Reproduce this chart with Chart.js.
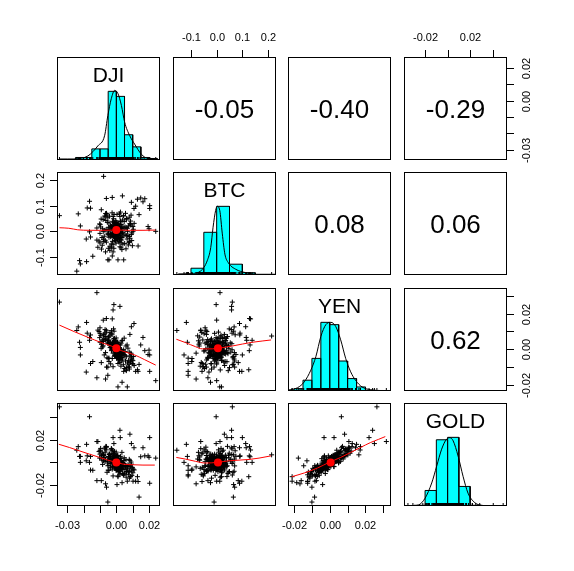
<!DOCTYPE html>
<html lang="en">
<head>
<meta charset="UTF-8">
<title>Pairs panels - DJI, BTC, YEN, GOLD</title>
<style>
  body { margin: 0; background: #ffffff; }
  #wrap { position: relative; width: 574px; height: 571px; overflow: hidden; background: #ffffff; }
  #wrap canvas { position: absolute; }
</style>
</head>
<body>
<div id="wrap"></div>
<script src="https://cdn.jsdelivr.net/npm/chart.js@4.4.1/dist/chart.umd.min.js"></script>
<script>
const names = ['DJI', 'BTC', 'YEN', 'GOLD'];

// returns, one entry per observation (same order in every array)
const dji = [
  -0.0348, -0.0078, -0.0242, 0.0241, -0.0119, -0.0052, 0.0139, -0.0164, -0.0015, 0.0022,
  -0.0020, -0.0182, -0.0225, -0.0220, -0.0144, -0.0066, 0.0010, 0.0067, 0.0035, 0.0204,
  0.0204, 0.0174, 0.0129, 0.0118, 0.0149, 0.0108, 0.0092, -0.0061, -0.0025, 0.0037,
  -0.0113, -0.0158, -0.0233, -0.0178, -0.0164, 0.0133, -0.0052, -0.0045, 0.0010, 0.0045,
  -0.0025, -0.0020, -0.0015, -0.0119, -0.0158, 0.0194, 0.0200, -0.0220, -0.0092, -0.0060,
  0.0004, 0.0163, 0.0102, 0.0083, 0.0024, -0.0184, -0.0080, -0.0100, 0.0080, -0.0070,
  0.0012, -0.0021, 0.0004, -0.0008, 0.0031, -0.0015, 0.0002, 0.0024, -0.0032, 0.0009,
  -0.0003, 0.0018, -0.0045, 0.0006, -0.0011, 0.0029, -0.0005, 0.0014, -0.0026, 0.0001,
  0.0042, -0.0018, 0.0007, -0.0001, 0.0022, -0.0038, 0.0010, -0.0009, 0.0003, 0.0053,
  -0.0023, 0.0016, -0.0006, 0.0000, 0.0035, -0.0013, 0.0008, -0.0052, 0.0019, -0.0002,
  0.0026, -0.0017, 0.0005, -0.0029, 0.0013, -0.0004, 0.0038, -0.0010, 0.0006, -0.0035,
  0.0020, -0.0007, 0.0011, -0.0020, 0.0002, 0.0047, -0.0014, 0.0009, -0.0008, 0.0027,
  -0.0040, 0.0004, -0.0002, 0.0017, -0.0024, 0.0000, 0.0033, -0.0012, 0.0007, -0.0030,
  0.0015, -0.0005, 0.0023, -0.0016, 0.0001, 0.0061, -0.0009, 0.0012, -0.0027, 0.0003,
  -0.0001, 0.0019, -0.0019, 0.0008, -0.0048, 0.0021, -0.0003, 0.0010, -0.0011, 0.0030,
  -0.0006, 0.0005, -0.0022, 0.0014, -0.0004, 0.0025, -0.0015, 0.0002, -0.0034, 0.0016,
  -0.0007, 0.0009, -0.0010, 0.0040, -0.0025, 0.0006, -0.0002, 0.0018, -0.0013, 0.0004,
  -0.0036, 0.0028, -0.0008, 0.0001, 0.0011, -0.0019, 0.0007, -0.0004, 0.0024, -0.0028,
  0.0075, -0.0068, 0.0092, -0.0081, 0.0043, -0.0039, 0.0104, -0.0096, 0.0028, -0.0052,
  0.0066, -0.0074, 0.0087, -0.0026, 0.0051, -0.0102, 0.0034, -0.0045, 0.0079, -0.0061,
  0.0019, -0.0088, 0.0098, -0.0017, 0.0060, -0.0091, 0.0048, -0.0057, 0.0083, -0.0031,
  0.0109, -0.0070, 0.0022, -0.0042, 0.0071, -0.0106, 0.0056, -0.0020, 0.0089, -0.0064,
  0.0030, -0.0084, 0.0063, -0.0049, 0.0095, -0.0014, 0.0040, -0.0099, 0.0077, -0.0055,
  0.0025, -0.0077, 0.0101, -0.0035, 0.0059, -0.0069, 0.0080, -0.0023, 0.0068, -0.0086,
  0.0037, -0.0040, 0.0090, -0.0062, 0.0016, -0.0093, 0.0073, -0.0011, 0.0053, -0.0079,
  0.0045, -0.0050, 0.0085, -0.0030, 0.0061, -0.0100, 0.0029, -0.0066, 0.0094, -0.0047
];
const btc = [
  0.061, 0.214, -0.155, 0.000, 0.013, -0.010, 0.065, -0.002, -0.002, 0.058,
  0.058, -0.118, -0.114, -0.127, -0.097, -0.080, 0.019, 0.012, -0.024, 0.089,
  0.100, 0.127, 0.125, 0.098, 0.130, 0.089, 0.113, 0.128, 0.132, 0.138,
  -0.062, 0.090, 0.068, 0.091, 0.117, -0.057, -0.111, -0.111, -0.111, -0.111,
  -0.096, -0.080, -0.066, -0.034, -0.022, 0.019, 0.010, 0.021, 0.084, 0.070,
  0.066, 0.115, 0.000, 0.030, 0.040, -0.030, 0.000, -0.045, -0.040, 0.060,
  0.008, -0.015, 0.022, -0.004, 0.011, 0.034, -0.028, 0.003, 0.016, -0.012,
  0.041, -0.007, -0.023, 0.019, 0.002, 0.027, -0.036, 0.005, -0.009, 0.013,
  -0.018, 0.025, -0.001, 0.009, -0.024, 0.006, 0.030, -0.019, 0.004, 0.017,
  -0.006, -0.042, 0.015, -0.010, 0.001, 0.020, -0.031, 0.007, 0.010, -0.003,
  0.038, -0.020, 0.000, 0.012, -0.016, 0.029, -0.005, -0.026, 0.006, -0.011,
  0.018, -0.008, 0.024, 0.003, -0.022, 0.009, 0.014, -0.002, 0.036, -0.033,
  0.005, -0.014, 0.011, 0.002, -0.039, 0.021, -0.009, 0.008, -0.027, 0.019,
  -0.004, 0.001, 0.026, -0.013, 0.007, -0.017, 0.032, -0.006, -0.016, 0.016,
  -0.002, -0.029, 0.004, 0.028, -0.007, 0.012, -0.019, 0.005, -0.034, 0.015,
  0.000, -0.011, 0.023, -0.003, 0.017, -0.021, -0.005, 0.035, -0.012, 0.008,
  -0.025, 0.010, -0.001, 0.020, -0.015, 0.003, -0.046, 0.014, 0.009, -0.008,
  0.022, -0.010, -0.022, 0.018, -0.015, 0.006, 0.025, -0.009, 0.002, -0.018,
  0.021, -0.035, -0.012, 0.046, 0.061, -0.058, 0.008, 0.017, -0.064, 0.053,
  -0.030, -0.019, 0.040, 0.072, -0.047, 0.029, -0.071, 0.033, 0.055, -0.042,
  0.068, -0.024, -0.056, 0.049, 0.014, -0.069, 0.038, 0.064, -0.027, -0.049,
  0.031, 0.004, -0.060, 0.059, -0.015, -0.038, 0.070, -0.052, 0.024, 0.042,
  -0.034, 0.010, 0.050, -0.066, -0.006, 0.066, -0.050, 0.026, -0.044, 0.035,
  0.075, -0.040, 0.019, -0.021, -0.068, 0.057, -0.020, 0.039, 0.000, -0.054,
  0.044, -0.074, 0.063, 0.007, -0.039, 0.048, -0.053, 0.022, -0.011, -0.031,
  0.060, -0.013, 0.028, -0.062, 0.045, -0.008, -0.045, 0.069, -0.036, 0.016
];
const yen = [
  0.0264, 0.0074, 0.0105, -0.0176, 0.0317, -0.0100, -0.0085, 0.0065, 0.0250, 0.0240,
  0.0220, 0.0150, 0.0039, -0.0032, -0.0069, -0.0167, -0.0211, -0.0211, -0.0185, -0.0124,
  -0.0032, -0.0008, -0.0115, -0.0124, 0.0024, 0.0144, 0.0126, 0.0172, 0.0170, 0.0050,
  0.0107, 0.0080, 0.0125, 0.0090, 0.0050, -0.0124, -0.0146, -0.0050, -0.0080, -0.0124,
  -0.0052, -0.0022, 0.0035, -0.0160, -0.0080, -0.0030, -0.0005, 0.0010, -0.0075, -0.0100,
  -0.0040, 0.0066, -0.0083, 0.0083, 0.0024, -0.0128, 0.0163, 0.0120, -0.0100, 0.0090,
  -0.0015, 0.0023, 0.0006, -0.0009, -0.0034, 0.0041, -0.0003, -0.0020, 0.0012, 0.0030,
  -0.0018, 0.0005, 0.0052, -0.0044, 0.0000, -0.0011, 0.0027, -0.0060, 0.0016, 0.0019,
  -0.0029, 0.0036, -0.0007, 0.0063, -0.0038, 0.0009, -0.0024, 0.0047, -0.0051, -0.0013,
  0.0021, 0.0002, -0.0031, 0.0014, -0.0046, 0.0029, -0.0019, 0.0033, 0.0008, -0.0026,
  -0.0005, 0.0058, -0.0036, -0.0008, 0.0025, -0.0010, -0.0055, 0.0004, 0.0038, 0.0010,
  -0.0022, -0.0040, 0.0017, 0.0003, -0.0014, -0.0030, 0.0044, -0.0002, 0.0020, -0.0049,
  0.0026, -0.0028, 0.0011, -0.0006, 0.0039, -0.0016, -0.0066, 0.0007, 0.0022, -0.0004,
  -0.0033, 0.0050, -0.0012, 0.0018, -0.0020, -0.0042, 0.0031, -0.0001, 0.0028, -0.0047,
  0.0001, -0.0025, 0.0035, -0.0008, 0.0046, -0.0039, 0.0013, -0.0017, 0.0006, -0.0023,
  0.0024, -0.0004, 0.0015, -0.0053, 0.0002, -0.0010, 0.0032, -0.0027, 0.0019, 0.0009,
  -0.0015, 0.0040, -0.0035, -0.0019, 0.0005, 0.0026, -0.0009, -0.0041, 0.0010, -0.0021,
  0.0037, -0.0003, 0.0016, -0.0032, 0.0000, 0.0023, -0.0013, 0.0043, -0.0028, 0.0007,
  -0.0062, 0.0054, -0.0028, 0.0019, -0.0087, 0.0093, -0.0041, 0.0078, -0.0095, 0.0036,
  0.0024, -0.0032, -0.0070, 0.0081, -0.0108, 0.0065, 0.0047, -0.0069, -0.0016, 0.0106,
  -0.0055, 0.0042, -0.0080, 0.0114, -0.0116, 0.0028, 0.0062, -0.0048, -0.0037, 0.0087,
  -0.0091, 0.0059, -0.0074, 0.0031, 0.0006, 0.0099, -0.0066, -0.0098, -0.0022, 0.0071,
  -0.0045, 0.0013, -0.0103, 0.0068, -0.0059, 0.0101, -0.0010, 0.0039, -0.0084, 0.0049,
  -0.0030, 0.0083, -0.0064, -0.0082, 0.0018, 0.0110, -0.0111, 0.0022, -0.0077, 0.0052,
  -0.0025, 0.0075, -0.0043, 0.0096, -0.0060, 0.0005, -0.0099, 0.0060, -0.0034, 0.0044,
  -0.0003, -0.0051, -0.0072, 0.0104, -0.0120, 0.0089, 0.0034, -0.0019, -0.0050, 0.0069
];
const gold = [
  0.0493, 0.0067, 0.0108, 0.0038, 0.0185, -0.0352, -0.0308, 0.0405, 0.0167, 0.0285,
  0.0220, 0.0160, 0.0053, 0.0000, -0.0070, -0.0190, -0.0127, -0.0167, -0.0180, -0.0185,
  0.0220, 0.0058, -0.0127, -0.0167, 0.0050, 0.0130, 0.0167, 0.0140, 0.0110, 0.0000,
  0.0185, 0.0053, 0.0140, 0.0058, 0.0000, -0.0170, -0.0030, -0.0070, -0.0120, -0.0110,
  -0.0060, -0.0040, 0.0020, -0.0162, -0.0068, 0.0058, 0.0045, 0.0053, -0.0162, -0.0220,
  -0.0197, 0.0130, -0.0167, 0.0250, 0.0220, 0.0014, 0.0067, 0.0100, -0.0080, 0.0120,
  -0.0020, 0.0018, 0.0031, -0.0042, -0.0016, 0.0065, 0.0008, -0.0055, 0.0024, 0.0048,
  -0.0030, -0.0011, 0.0074, -0.0068, 0.0015, 0.0004, 0.0039, -0.0082, -0.0006, 0.0056,
  -0.0037, 0.0022, -0.0026, 0.0091, -0.0009, 0.0035, -0.0050, 0.0044, -0.0033, -0.0061,
  0.0007, 0.0029, -0.0014, -0.0002, -0.0049, 0.0060, -0.0023, 0.0012, -0.0004, -0.0070,
  0.0010, 0.0052, -0.0058, 0.0002, 0.0034, -0.0019, -0.0028, 0.0041, 0.0026, -0.0010,
  -0.0045, -0.0039, 0.0000, 0.0020, -0.0064, 0.0017, 0.0078, -0.0012, -0.0008, -0.0076,
  0.0046, -0.0021, 0.0030, -0.0034, 0.0027, 0.0006, -0.0053, -0.0024, 0.0059, 0.0014,
  -0.0017, 0.0037, -0.0040, 0.0003, -0.0005, -0.0031, 0.0043, 0.0023, 0.0067, -0.0069,
  -0.0015, 0.0009, 0.0011, -0.0027, 0.0050, -0.0044, 0.0021, -0.0007, -0.0036, -0.0013,
  0.0040, 0.0019, 0.0005, -0.0047, -0.0003, -0.0029, 0.0032, -0.0018, 0.0028, -0.0010,
  -0.0051, 0.0062, -0.0022, -0.0001, 0.0016, 0.0004, -0.0035, -0.0063, 0.0036, 0.0013,
  0.0049, -0.0025, -0.0013, -0.0041, 0.0025, 0.0001, -0.0032, 0.0054, -0.0014, 0.0010,
  -0.0084, 0.0091, -0.0015, 0.0063, -0.0112, 0.0076, -0.0060, 0.0124, -0.0053, 0.0012,
  -0.0038, 0.0045, -0.0126, 0.0103, -0.0097, 0.0038, 0.0089, -0.0026, 0.0027, 0.0135,
  -0.0079, 0.0021, -0.0044, 0.0082, -0.0131, 0.0059, 0.0041, -0.0088, 0.0016, 0.0118,
  -0.0067, 0.0009, -0.0105, 0.0070, -0.0022, 0.0096, -0.0031, -0.0120, -0.0050, 0.0142,
  0.0033, -0.0018, -0.0081, 0.0048, -0.0115, 0.0066, -0.0064, 0.0108, -0.0029, -0.0005,
  0.0054, 0.0061, -0.0092, -0.0047, 0.0024, 0.0129, -0.0140, -0.0035, -0.0056, 0.0084,
  -0.0099, 0.0030, 0.0003, 0.0111, -0.0072, 0.0040, -0.0109, 0.0098, -0.0040, 0.0015,
  -0.0010, -0.0069, -0.0037, 0.0122, -0.0086, 0.0073, 0.0006, 0.0029, -0.0075, 0.0050
];

// axis limits of each variable
const djiRange = [-0.0363, 0.0267];
const btcRange = [-0.170, 0.231];
const yenRange = [-0.0234, 0.0343];
const goldRange = [-0.0387, 0.0527];

// tick values and the labels that are printed
const djiTicks = [-0.03, -0.02, -0.01, 0, 0.01, 0.02];
const djiTickLabels = ['-0.03', '', '', '0.00', '', '0.02'];
const btcTicks = [-0.1, 0, 0.1, 0.2];
const btcTickLabels = ['-0.1', '0.0', '0.1', '0.2'];
const yenTicks = [-0.02, -0.01, 0, 0.01, 0.02, 0.03];
const yenTickLabels = ['-0.02', '', '0.00', '', '0.02', ''];
const goldTicks = [-0.02, 0, 0.02, 0.04];
const goldTickLabels = ['-0.02', '', '0.02', ''];

// histograms (bin edges, bar heights) and density curves
const djiEdges = [-0.035, -0.03, -0.025, -0.02, -0.015, -0.01, -0.005, 0, 0.005, 0.01, 0.015, 0.02, 0.025];
const djiHist = [1, 1, 2.5, 2.5, 11, 11, 68, 63, 25, 13, 2.5, 1.5];
const djiDensX = [-0.0256, -0.0174, -0.0113, -0.0072, -0.0052, -0.0031, -0.0010, 0.0010, 0.0031, 0.0051, 0.0082, 0.0112, 0.0153, 0.0194, 0.0235];
const djiDensY = [0.7, 4, 14, 24, 44, 60.7, 69, 65.7, 54, 37.3, 24, 15.7, 5.7, 1.3, 0.7];

const btcEdges = [-0.15, -0.1, -0.05, 0, 0.05, 0.1, 0.15, 0.2, 0.25];
const btcHist = [1, 6.7, 42.3, 68, 10.7, 2.3, 0.7, 0.7];
const btcDensX = [-0.147, -0.101, -0.062, -0.037, -0.023, -0.014, -0.004, 0.002, 0.012, 0.022, 0.032, 0.045, 0.074, 0.113, 0.152];
const btcDensY = [0.7, 1.3, 4, 14, 27.3, 47.3, 64, 68, 64, 40.7, 20.7, 12.3, 5.7, 2.3, 0.7];

const yenEdges = [-0.025, -0.02, -0.015, -0.01, -0.005, 0, 0.005, 0.01, 0.015, 0.02, 0.025, 0.03, 0.035];
const yenHist = [0.7, 2.3, 10.7, 32.3, 68, 65.7, 29.7, 12.3, 4, 0.7, 0.5, 0.3];
const yenDensX = [-0.0236, -0.018, -0.0143, -0.0106, -0.0078, -0.005, -0.0022, 0.0006, 0.0033, 0.0061, 0.0089, 0.0117, 0.0144, 0.0181, 0.0228, 0.0302];
const yenDensY = [0.7, 3.3, 9, 20.7, 34, 54, 65.7, 68, 64, 50.7, 32.3, 19, 10.7, 4, 1.3, 0.3];

const goldEdges = [-0.04, -0.03, -0.02, -0.01, 0, 0.01, 0.02, 0.03, 0.04, 0.05];
const goldHist = [0.3, 0.7, 15.3, 65.3, 67.7, 19.3, 0.7, 0.3, 0.3];
const goldDensX = [-0.0347, -0.0259, -0.02, -0.0141, -0.0097, -0.0053, -0.0009, 0.002, 0.0049, 0.0093, 0.0137, 0.0181, 0.0241, 0.03, 0.0388];
const goldDensY = [0, 1, 7.7, 22.7, 39.3, 56, 66, 67.3, 64.3, 49.3, 29.3, 12.7, 3.3, 0.7, 0];

// loess smoothers (x, y) for the lower panels
const smDjiBtcX = [-0.0348, -0.0291, -0.0236, -0.0164, -0.0082, 0, 0.0082, 0.0163, 0.0239];
const smDjiBtcY = [0.014, 0.012, 0.006, 0.004, 0.004, 0.005, 0.004, 0.004, 0.005];
const smDjiYenX = [-0.0348, -0.0256, -0.0174, -0.0092, -0.0031, 0.0031, 0.0112, 0.0174, 0.0241];
const smDjiYenY = [0.0135, 0.0098, 0.0067, 0.0037, 0.0018, -0.0008, -0.0032, -0.0059, -0.0089];
const smBtcYenX = [-0.157, -0.121, -0.082, -0.056, -0.017, 0.022, 0.061, 0.1, 0.139, 0.177, 0.212];
const smBtcYenY = [0.0056, 0.0037, 0.0014, 0.0002, 0.0002, 0.0009, 0.0018, 0.0029, 0.0039, 0.0046, 0.0052];
const smDjiGoldX = [-0.0352, -0.0287, -0.0225, -0.0164, -0.0102, -0.0052, 0, 0.004, 0.0102, 0.0163, 0.0235];
const smDjiGoldY = [0.0161, 0.0132, 0.0102, 0.0073, 0.0044, 0.002, 0, -0.0015, -0.0021, -0.0024, -0.0024];
const smBtcGoldX = [-0.157, -0.121, -0.082, -0.043, 0.002, 0.048, 0.087, 0.126, 0.165, 0.212];
const smBtcGoldY = [0.0044, 0.0029, 0.0009, -0.0006, 0, 0.0014, 0.002, 0.0026, 0.0038, 0.0058];
const smYenGoldX = [-0.0213, -0.0143, -0.0069, -0.0004, 0.0061, 0.0117, 0.0172, 0.0228, 0.0274, 0.0311];
const smYenGoldY = [-0.0127, -0.0094, -0.005, 0, 0.0044, 0.0088, 0.0132, 0.0176, 0.0205, 0.0229];

const means = [0.0000, 0.005, 0.0005, 0.0000];
// DJI-BTC, DJI-YEN, DJI-GOLD, BTC-YEN, BTC-GOLD, YEN-GOLD
const correlations = [-0.05, -0.40, -0.29, 0.08, 0.06, 0.62];

const vars = [dji, btc, yen, gold];
const ranges = [djiRange, btcRange, yenRange, goldRange];
const ticks = [djiTicks, btcTicks, yenTicks, goldTicks];
const tickLabels = [djiTickLabels, btcTickLabels, yenTickLabels, goldTickLabels];
const hists = [[djiEdges, djiHist], [btcEdges, btcHist], [yenEdges, yenHist], [goldEdges, goldHist]];
const dens = [[djiDensX, djiDensY], [btcDensX, btcDensY], [yenDensX, yenDensY], [goldDensX, goldDensY]];
const smooth = {
  '10': [smDjiBtcX, smDjiBtcY], '20': [smDjiYenX, smDjiYenY], '21': [smBtcYenX, smBtcYenY],
  '30': [smDjiGoldX, smDjiGoldY], '31': [smBtcGoldX, smBtcGoldY], '32': [smYenGoldX, smYenGoldY]
};
const corrKeys = ['01', '02', '03', '12', '13', '23'];
const outerAxes = {
  '01': [['top', 1]],
  '03': [['top', 3], ['right', 0]],
  '23': [['right', 2]],
  '10': [['left', 1]],
  '30': [['left', 3], ['bottom', 0]],
  '32': [['bottom', 2]]
};

const colLeft = [57, 173, 288, 404];
const rowTop = [57, 172, 288, 403];
const SIZE = 103;
const M = 45;
const FONT = '"Liberation Sans", Arial, Helvetica, sans-serif';
const wrap = document.getElementById('wrap');

function panelPlugin(r, c) {
  const key = '' + r + c;
  return {
    id: 'panel' + key,
    afterDatasetsDraw(chart) {
      const ctx = chart.ctx;
      const a = chart.chartArea;
      ctx.save();
      ctx.strokeStyle = '#000';
      ctx.lineWidth = 1;
      ctx.strokeRect(a.left + 0.5, a.top + 0.5, a.width - 1, a.height - 1);
      ctx.fillStyle = '#000';
      ctx.textAlign = 'center';
      ctx.textBaseline = 'middle';
      if (r === c) {
        ctx.font = '21px ' + FONT;
        ctx.fillText(names[r], (a.left + a.right) / 2, a.top + 19);
      }
      const ci = corrKeys.indexOf(key);
      if (ci >= 0) {
        ctx.font = '26px ' + FONT;
        ctx.fillText(correlations[ci].toFixed(2), (a.left + a.right) / 2, (a.top + a.bottom) / 2 + 2);
      }
      (outerAxes[key] || []).forEach(([side, v]) => {
        const horiz = side === 'top' || side === 'bottom';
        const sc = horiz ? chart.scales.x : chart.scales.y;
        ctx.font = '11px ' + FONT;
        ticks[v].forEach((t, i) => {
          const p = Math.round(sc.getPixelForValue(t)) + 0.5;
          ctx.beginPath();
          if (side === 'top') { ctx.moveTo(p, a.top); ctx.lineTo(p, a.top - 7); }
          if (side === 'bottom') { ctx.moveTo(p, a.bottom); ctx.lineTo(p, a.bottom + 7); }
          if (side === 'left') { ctx.moveTo(a.left, p); ctx.lineTo(a.left - 7, p); }
          if (side === 'right') { ctx.moveTo(a.right, p); ctx.lineTo(a.right + 7, p); }
          ctx.stroke();
          const txt = tickLabels[v][i];
          if (!txt) return;
          if (side === 'top') ctx.fillText(txt, p, a.top - 19);
          if (side === 'bottom') ctx.fillText(txt, p, a.bottom + 20);
          if (side === 'left' || side === 'right') {
            ctx.save();
            ctx.translate(side === 'left' ? a.left - 16 : a.right + 20, p);
            ctx.rotate(-Math.PI / 2);
            ctx.fillText(txt, 0, 0);
            ctx.restore();
          }
        });
      });
      ctx.restore();
    }
  };
}

function makePanel(r, c) {
  const cv = document.createElement('canvas');
  cv.width = SIZE + 2 * M;
  cv.height = SIZE + 2 * M;
  cv.style.left = (colLeft[c] - M) + 'px';
  cv.style.top = (rowTop[r] - M) + 'px';
  wrap.appendChild(cv);

  const datasets = [];
  let yMin = ranges[r][0], yMax = ranges[r][1];
  if (r === c) {
    const [edges, h] = hists[r];
    const outline = [];
    h.forEach((v, i) => {
      outline.push({x: edges[i], y: 0}, {x: edges[i], y: v}, {x: edges[i + 1], y: v}, {x: edges[i + 1], y: 0});
    });
    yMin = 0;
    yMax = 1.5 * Math.max(...h);
    datasets.push({
      type: 'line', data: outline, order: 3, fill: 'origin', backgroundColor: '#00FFFF',
      borderColor: '#000', borderWidth: 1, pointRadius: 0, tension: 0, clip: 0
    });
    datasets.push({
      type: 'line', data: dens[r][0].map((x, i) => ({x: x, y: dens[r][1][i]})), order: 1,
      borderColor: '#000', borderWidth: 1, pointRadius: 0, cubicInterpolationMode: 'monotone', fill: false, clip: 0
    });
    datasets.push({
      type: 'scatter', data: vars[r].map(v => ({x: v, y: 0})), order: 2,
      pointStyle: 'line', rotation: 90, radius: 3, borderColor: '#000', borderWidth: 1, clip: 0
    });
  } else if (r > c) {
    const sm = smooth['' + r + c];
    datasets.push({
      type: 'scatter', data: [{x: means[c], y: means[r]}], order: 0,
      pointStyle: 'circle', radius: 4, backgroundColor: '#FF0000', borderColor: '#FF0000', borderWidth: 0, clip: 0
    });
    datasets.push({
      type: 'line', data: sm[0].map((x, i) => ({x: x, y: sm[1][i]})), order: 1,
      borderColor: '#FF0000', borderWidth: 1, pointRadius: 0, cubicInterpolationMode: 'monotone', fill: false, clip: 0
    });
    datasets.push({
      type: 'scatter', data: vars[c].map((v, k) => ({x: v, y: vars[r][k]})), order: 2,
      pointStyle: 'cross', radius: 2.5, borderColor: '#000', borderWidth: 1, clip: 0
    });
  }

  new Chart(cv, {
    type: 'scatter',
    data: {datasets: datasets},
    options: {
      responsive: false,
      animation: false,
      devicePixelRatio: 1,
      events: [],
      layout: {padding: M},
      plugins: {legend: {display: false}, tooltip: {enabled: false}},
      scales: {
        x: {type: 'linear', display: false, min: ranges[c][0], max: ranges[c][1]},
        y: {type: 'linear', display: false, min: yMin, max: yMax}
      }
    },
    plugins: [panelPlugin(r, c)]
  });
}

for (let r = 0; r < 4; r++) {
  for (let c = 0; c < 4; c++) makePanel(r, c);
}
</script>
</body>
</html>
